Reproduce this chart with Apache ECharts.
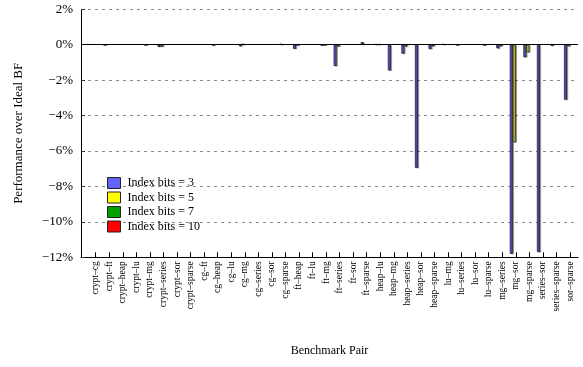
<!DOCTYPE html>
<html>
<head>
<meta charset="utf-8">
<script src="https://cdn.jsdelivr.net/npm/echarts@6/dist/echarts.min.js"></script>
<style>
  html, body { margin: 0; padding: 0; background: #ffffff; }
  #chart { width: 583px; height: 367px; }
</style>
</head>
<body>
<div id="chart"></div>
<script>
const categories = [
  'crypt–cg', 'crypt–ft', 'crypt–heap', 'crypt–lu', 'crypt–mg', 'crypt–series',
  'crypt–sor', 'crypt–sparse', 'cg–ft', 'cg–heap', 'cg–lu', 'cg–mg',
  'cg–series', 'cg–sor', 'cg–sparse', 'ft–heap', 'ft–lu', 'ft–mg',
  'ft–series', 'ft–sor', 'ft–sparse', 'heap–lu', 'heap–mg', 'heap–series',
  'heap–sor', 'heap–sparse', 'lu–mg', 'lu–series', 'lu–sor', 'lu–sparse',
  'mg–series', 'mg–sor', 'mg–sparse', 'series–sor', 'series–sparse', 'sor–sparse'
];
const seriesNames = ['Index bits = 3', 'Index bits = 5', 'Index bits = 7', 'Index bits = 10'];
const bits3 = [
  0, -0.02, 0, 0, -0.02, -0.12,
  0, 0, 0, -0.03, 0, -0.08,
  0, 0, 0.05, -0.23, 0, -0.03,
  -1.2, 0, 0.15, 0.04, -1.45, -0.5,
  -6.95, -0.24, 0.04, -0.02, 0, -0.02,
  -0.2, -11.8, -0.7, -11.7, -0.06, -3.1
];
const bits5 = [
  0, 0, 0, 0, 0, -0.1,
  0, 0, 0, 0, 0, 0.05,
  0, 0, 0, -0.03, 0, -0.02,
  -0.1, 0, 0, 0.04, 0, -0.1,
  0, -0.08, 0, 0, 0, 0,
  -0.08, -5.5, -0.42, 0, 0, -0.08
];
const bits7 = [
  0, 0, 0, 0, 0, 0, 0, 0, 0, 0, 0, 0,
  0, 0, 0, 0, 0, 0, 0, 0, 0, 0, 0, 0,
  0, 0, 0, 0, 0, 0, 0, 0, 0, 0, 0, 0
];
const bits10 = [
  0, 0, 0, 0, 0, 0, 0, 0, 0, 0, 0, 0,
  0, 0, 0, 0, 0, 0, 0, 0, 0, 0, 0, 0,
  0, 0, 0, 0, 0, 0, 0, 0, 0, 0, 0, 0
];

const colors = ['#6363f7', '#ffff00', '#00a000', '#ff0000'];
const values = [bits3, bits5, bits7, bits10];
const font = 'Liberation Serif';

const series = values.map((arr, k) => {
  const s = {
    name: seriesNames[k],
    type: 'bar',
    barWidth: 3,
    barGap: '0%',
    // zero-height bars are not drawn (they would only thicken the 0% line)
    data: arr.map((v, i) => [i, v === 0 ? null : v]),
    itemStyle: {
      color: colors[k],
      borderColor: '#1c1c2a',
      borderWidth: 0.8,
      shadowColor: 'rgba(0,0,0,0.35)',
      shadowOffsetX: 1.2,
      shadowOffsetY: 0.6,
      shadowBlur: 0
    },
    emphasis: { disabled: true },
    animation: false
  };
  if (k === 0) {
    s.markLine = {
      silent: true,
      symbol: 'none',
      label: { show: false },
      lineStyle: { color: '#000', width: 1, type: 'solid' },
      data: [{ yAxis: 0 }],
      animation: false
    };
  }
  return s;
});

const chart = echarts.init(document.getElementById('chart'), null, { renderer: 'canvas' });
chart.setOption({
  backgroundColor: '#ffffff',
  animation: false,
  textStyle: { fontFamily: font },
  grid: { left: 81, right: 5, top: 9.3, bottom: 109.7, containLabel: false },
  legend: {
    orient: 'vertical',
    left: 102,
    top: 172,
    itemWidth: 13,
    itemHeight: 11,
    itemGap: 2.5,
    icon: 'rect',
    selectedMode: false,
    itemStyle: { borderColor: '#222', borderWidth: 1, shadowColor: 'transparent', shadowBlur: 0, shadowOffsetX: 0, shadowOffsetY: 0 },
    textStyle: { fontFamily: font, fontSize: 12, color: '#000', lineHeight: 12, padding: [0, 0, 0, 2] },
    data: seriesNames
  },
  xAxis: {
    type: 'value',
    min: -1.085,
    max: 35.59,
    name: 'Benchmark Pair',
    nameLocation: 'middle',
    nameGap: 88,
    nameTextStyle: { fontFamily: font, fontSize: 12, color: '#000' },
    axisLine: { show: true, onZero: false, lineStyle: { color: '#000', width: 1 } },
    axisTick: { show: true, inside: true, length: 5, customValues: categories.map((c, i) => i), lineStyle: { color: '#000' } },
    axisLabel: {
      show: true,
      rotate: 90,
      margin: 4,
      fontFamily: font,
      fontSize: 9.5,
      color: '#000',
      customValues: categories.map((c, i) => i),
      formatter: v => categories[Math.round(v)]
    },
    splitLine: { show: false }
  },
  yAxis: {
    type: 'value',
    min: -12,
    max: 2,
    interval: 2,
    name: 'Performance over Ideal BF',
    nameLocation: 'middle',
    nameGap: 56,
    nameTextStyle: { fontFamily: font, fontSize: 13, color: '#000' },
    axisLine: { show: true, onZero: false, lineStyle: { color: '#000', width: 1 } },
    axisTick: { show: true, inside: true, length: 4, lineStyle: { color: '#333' } },
    axisLabel: {
      margin: 8,
      fontFamily: font,
      fontSize: 13,
      color: '#000',
      formatter: v => (v < 0 ? '\u2212' : '') + Math.abs(v) + '%'
    },
    splitLine: { show: true, lineStyle: { color: '#888', width: 1, type: [3, 4] } }
  },
  series: series
});
</script>
</body>
</html>
